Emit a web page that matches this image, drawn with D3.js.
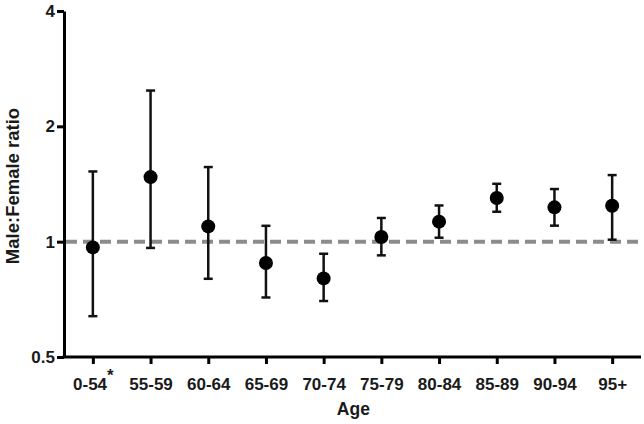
<!DOCTYPE html>
<html>
<head>
<meta charset="utf-8">
<script src="https://cdn.jsdelivr.net/npm/d3@7"></script>
<style>
  body { margin: 0; background: #fff; }
  text { font-family: "Liberation Sans", Arial, sans-serif; font-weight: bold; }
</style>
</head>
<body>
<div id="chart"></div>
<script>
const ages = ["0-54", "55-59", "60-64", "65-69", "70-74", "75-79", "80-84", "85-89", "90-94", "95+"];
const ratio = [0.966, 1.474, 1.096, 0.88, 0.802, 1.028, 1.128, 1.30, 1.229, 1.241];
const lower = [0.639, 0.963, 0.80, 0.715, 0.70, 0.921, 1.024, 1.197, 1.101, 1.012];
const upper = [1.525, 2.48, 1.566, 1.10, 0.930, 1.153, 1.243, 1.416, 1.372, 1.492];
const yTicks = [0.5, 1, 2, 4];

const width = 644, height = 424;
const margin = { top: 11, right: 3, bottom: 67, left: 64 };
const font = '"Liberation Sans", Arial, sans-serif';

const svg = d3.select("#chart").append("svg")
  .attr("width", width)
  .attr("height", height);

const x = d3.scalePoint()
  .domain(ages)
  .range([margin.left, width - margin.right])
  .padding(0.5);

const y = d3.scaleLog()
  .base(2)
  .domain([0.5, 4])
  .range([height - margin.bottom, margin.top]);

// reference line at 1
svg.append("line")
  .attr("x1", margin.left + 2)
  .attr("x2", width - margin.right)
  .attr("y1", y(1))
  .attr("y2", y(1))
  .attr("stroke", "#8c8c8c")
  .attr("stroke-width", 4)
  .attr("stroke-dasharray", "11,6");

// error bars
const data = ages.map((a, i) => ({ age: a, v: ratio[i], lo: lower[i], hi: upper[i] }));
const g = svg.append("g");
g.selectAll("line.bar").data(data).join("line")
  .attr("class", "bar")
  .attr("x1", (d) => x(d.age))
  .attr("x2", (d) => x(d.age))
  .attr("y1", (d) => y(d.lo))
  .attr("y2", (d) => y(d.hi))
  .attr("stroke", "#111")
  .attr("stroke-width", 2.5);

["lo", "hi"].forEach((k) => {
  g.selectAll("line.cap-" + k).data(data).join("line")
    .attr("class", "cap-" + k)
    .attr("x1", (d) => x(d.age) - 4.5)
    .attr("x2", (d) => x(d.age) + 4.5)
    .attr("y1", (d) => y(d[k]))
    .attr("y2", (d) => y(d[k]))
    .attr("stroke", "#111")
    .attr("stroke-width", 2.5);
});

g.selectAll("circle").data(data).join("circle")
  .attr("cx", (d) => x(d.age))
  .attr("cy", (d) => y(d.v))
  .attr("r", 7)
  .attr("fill", "#000");

// axes
const xAxis = svg.append("g")
  .attr("transform", `translate(0,${height - margin.bottom})`)
  .call(d3.axisBottom(x).tickSize(7).tickPadding(14).tickSizeOuter(0));

const yAxis = svg.append("g")
  .attr("transform", `translate(${margin.left},0)`)
  .call(d3.axisLeft(y).tickValues(yTicks).tickFormat(d3.format("")).tickSize(7).tickPadding(2).tickSizeOuter(0));

[xAxis, yAxis].forEach((ax) => {
  ax.attr("font-size", 17).attr("font-family", font);
  ax.select(".domain").attr("stroke", "#000").attr("stroke-width", 3);
  ax.selectAll(".tick line").attr("stroke", "#000").attr("stroke-width", 3);
  ax.selectAll(".tick text")
    .attr("fill", "#1a1a1a")
    .attr("font-weight", "bold");
});
// extend the x domain line to meet the y axis
xAxis.select(".domain").attr("d", `M${margin.left - 1.5},0H${width - margin.right}`);

// asterisk after first category
xAxis.selectAll(".tick").filter((d) => d === "0-54")
  .select("text")
  .append("tspan")
  .attr("dy", "-0.55em")
  .text("*");

svg.append("text")
  .attr("x", x("75-79") - 28)
  .attr("y", 415)
  .attr("text-anchor", "middle")
  .attr("font-size", 17.5)
  .attr("fill", "#1a1a1a")
  .text("Age");

svg.append("text")
  .attr("transform", `translate(19,${y(Math.SQRT2) + 2}) rotate(-90)`)
  .attr("text-anchor", "middle")
  .attr("font-size", 18.5)
  .attr("fill", "#1a1a1a")
  .text("Male:Female ratio");
</script>
</body>
</html>
